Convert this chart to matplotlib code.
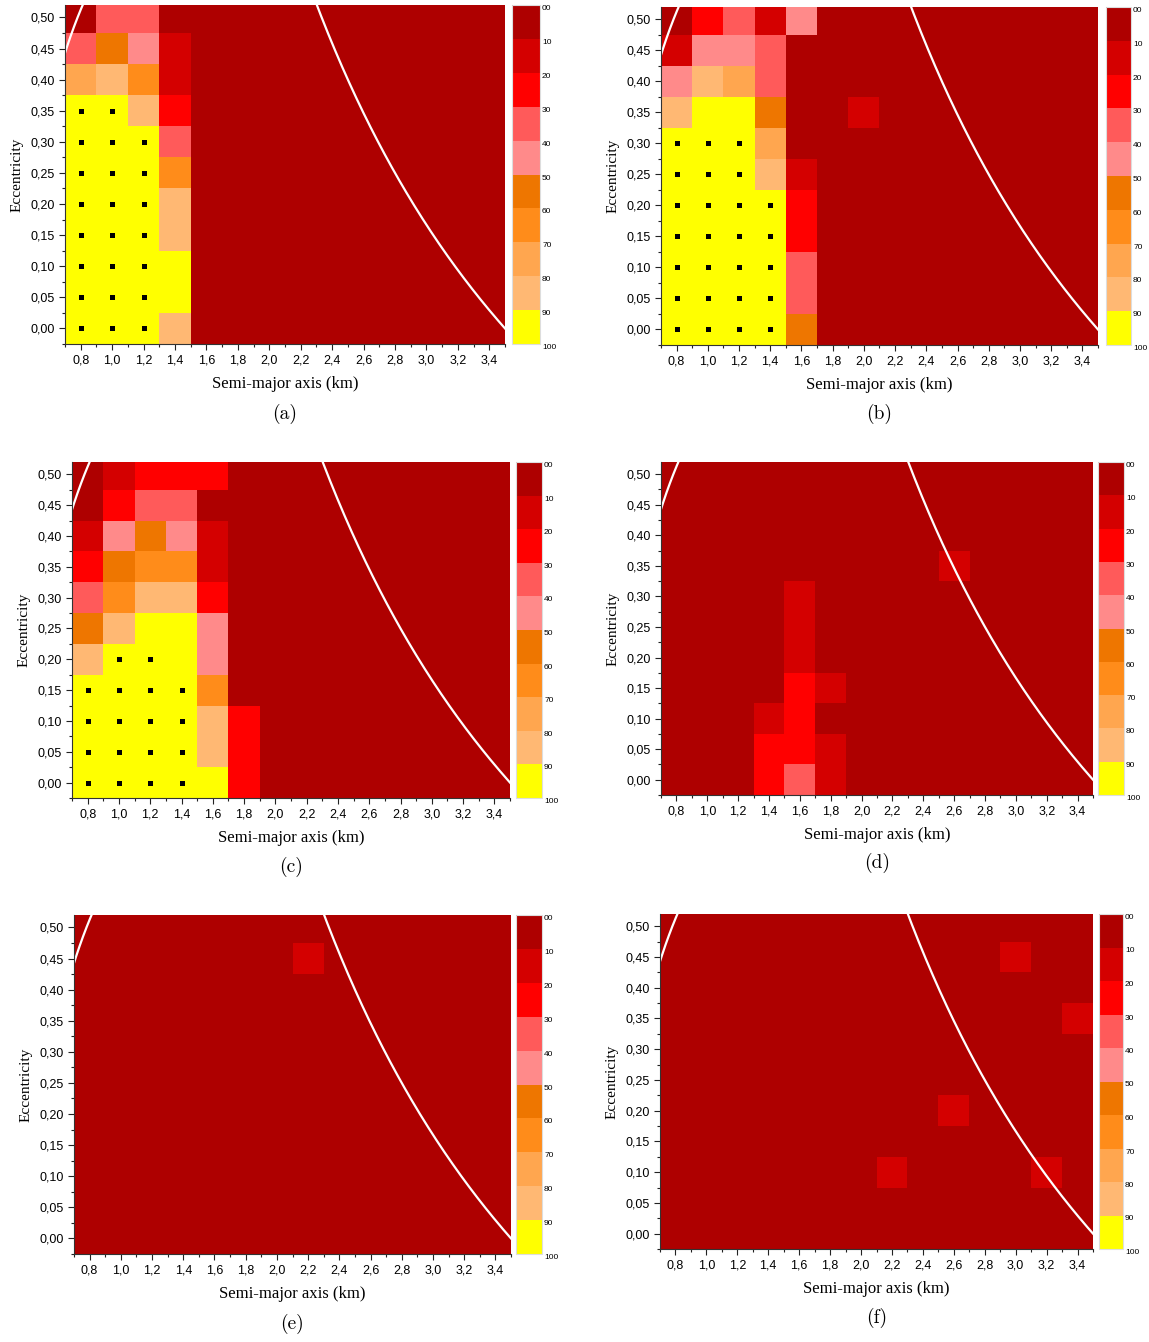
import numpy as np
import matplotlib
matplotlib.use("Agg")
import matplotlib.pyplot as plt
from matplotlib.colors import ListedColormap, BoundaryNorm
from matplotlib.ticker import FixedLocator, FuncFormatter

# semi-major axis (km) and eccentricity of the grid cells
semi_axis = [0.8, 1.0, 1.2, 1.4, 1.6, 1.8, 2.0, 2.2, 2.4, 2.6, 2.8, 3.0, 3.2, 3.4]
eccentricity = [0.00, 0.05, 0.10, 0.15, 0.20, 0.25, 0.30, 0.35, 0.40, 0.45, 0.50]

# survival (%) per cell, rows from e=0.50 (top) down to e=0.00
# 100 = all survive (dotted), 90 = 90-99, 80 = 80-89 ... 0 = 0-9
surv_a = [
    [0, 30, 30, 0, 0, 0, 0, 0, 0, 0, 0, 0, 0, 0],
    [30, 50, 40, 10, 0, 0, 0, 0, 0, 0, 0, 0, 0, 0],
    [70, 80, 60, 10, 0, 0, 0, 0, 0, 0, 0, 0, 0, 0],
    [100, 100, 80, 20, 0, 0, 0, 0, 0, 0, 0, 0, 0, 0],
    [100, 100, 100, 30, 0, 0, 0, 0, 0, 0, 0, 0, 0, 0],
    [100, 100, 100, 60, 0, 0, 0, 0, 0, 0, 0, 0, 0, 0],
    [100, 100, 100, 80, 0, 0, 0, 0, 0, 0, 0, 0, 0, 0],
    [100, 100, 100, 80, 0, 0, 0, 0, 0, 0, 0, 0, 0, 0],
    [100, 100, 100, 90, 0, 0, 0, 0, 0, 0, 0, 0, 0, 0],
    [100, 100, 100, 90, 0, 0, 0, 0, 0, 0, 0, 0, 0, 0],
    [100, 100, 100, 80, 0, 0, 0, 0, 0, 0, 0, 0, 0, 0],
]
surv_b = [
    [0, 20, 30, 10, 40, 0, 0, 0, 0, 0, 0, 0, 0, 0],
    [10, 40, 40, 30, 0, 0, 0, 0, 0, 0, 0, 0, 0, 0],
    [40, 80, 70, 30, 0, 0, 0, 0, 0, 0, 0, 0, 0, 0],
    [80, 90, 90, 50, 0, 0, 10, 0, 0, 0, 0, 0, 0, 0],
    [100, 100, 100, 70, 0, 0, 0, 0, 0, 0, 0, 0, 0, 0],
    [100, 100, 100, 80, 10, 0, 0, 0, 0, 0, 0, 0, 0, 0],
    [100, 100, 100, 100, 20, 0, 0, 0, 0, 0, 0, 0, 0, 0],
    [100, 100, 100, 100, 20, 0, 0, 0, 0, 0, 0, 0, 0, 0],
    [100, 100, 100, 100, 30, 0, 0, 0, 0, 0, 0, 0, 0, 0],
    [100, 100, 100, 100, 30, 0, 0, 0, 0, 0, 0, 0, 0, 0],
    [100, 100, 100, 100, 50, 0, 0, 0, 0, 0, 0, 0, 0, 0],
]
surv_c = [
    [0, 10, 20, 20, 20, 0, 0, 0, 0, 0, 0, 0, 0, 0],
    [0, 20, 30, 30, 0, 0, 0, 0, 0, 0, 0, 0, 0, 0],
    [10, 40, 50, 40, 10, 0, 0, 0, 0, 0, 0, 0, 0, 0],
    [20, 50, 60, 60, 10, 0, 0, 0, 0, 0, 0, 0, 0, 0],
    [30, 60, 80, 80, 20, 0, 0, 0, 0, 0, 0, 0, 0, 0],
    [50, 80, 90, 90, 40, 0, 0, 0, 0, 0, 0, 0, 0, 0],
    [80, 100, 100, 90, 40, 0, 0, 0, 0, 0, 0, 0, 0, 0],
    [100, 100, 100, 100, 60, 0, 0, 0, 0, 0, 0, 0, 0, 0],
    [100, 100, 100, 100, 80, 20, 0, 0, 0, 0, 0, 0, 0, 0],
    [100, 100, 100, 100, 80, 20, 0, 0, 0, 0, 0, 0, 0, 0],
    [100, 100, 100, 100, 90, 20, 0, 0, 0, 0, 0, 0, 0, 0],
]
surv_d = [
    [0, 0, 0, 0, 0, 0, 0, 0, 0, 0, 0, 0, 0, 0],
    [0, 0, 0, 0, 0, 0, 0, 0, 0, 0, 0, 0, 0, 0],
    [0, 0, 0, 0, 0, 0, 0, 0, 0, 0, 0, 0, 0, 0],
    [0, 0, 0, 0, 0, 0, 0, 0, 0, 10, 0, 0, 0, 0],
    [0, 0, 0, 0, 10, 0, 0, 0, 0, 0, 0, 0, 0, 0],
    [0, 0, 0, 0, 10, 0, 0, 0, 0, 0, 0, 0, 0, 0],
    [0, 0, 0, 0, 10, 0, 0, 0, 0, 0, 0, 0, 0, 0],
    [0, 0, 0, 0, 20, 10, 0, 0, 0, 0, 0, 0, 0, 0],
    [0, 0, 0, 10, 20, 0, 0, 0, 0, 0, 0, 0, 0, 0],
    [0, 0, 0, 20, 20, 10, 0, 0, 0, 0, 0, 0, 0, 0],
    [0, 0, 0, 20, 30, 10, 0, 0, 0, 0, 0, 0, 0, 0],
]
surv_e = [
    [0, 0, 0, 0, 0, 0, 0, 0, 0, 0, 0, 0, 0, 0],
    [0, 0, 0, 0, 0, 0, 0, 10, 0, 0, 0, 0, 0, 0],
    [0, 0, 0, 0, 0, 0, 0, 0, 0, 0, 0, 0, 0, 0],
    [0, 0, 0, 0, 0, 0, 0, 0, 0, 0, 0, 0, 0, 0],
    [0, 0, 0, 0, 0, 0, 0, 0, 0, 0, 0, 0, 0, 0],
    [0, 0, 0, 0, 0, 0, 0, 0, 0, 0, 0, 0, 0, 0],
    [0, 0, 0, 0, 0, 0, 0, 0, 0, 0, 0, 0, 0, 0],
    [0, 0, 0, 0, 0, 0, 0, 0, 0, 0, 0, 0, 0, 0],
    [0, 0, 0, 0, 0, 0, 0, 0, 0, 0, 0, 0, 0, 0],
    [0, 0, 0, 0, 0, 0, 0, 0, 0, 0, 0, 0, 0, 0],
    [0, 0, 0, 0, 0, 0, 0, 0, 0, 0, 0, 0, 0, 0],
]
surv_f = [
    [0, 0, 0, 0, 0, 0, 0, 0, 0, 0, 0, 0, 0, 0],
    [0, 0, 0, 0, 0, 0, 0, 0, 0, 0, 0, 10, 0, 0],
    [0, 0, 0, 0, 0, 0, 0, 0, 0, 0, 0, 0, 0, 0],
    [0, 0, 0, 0, 0, 0, 0, 0, 0, 0, 0, 0, 0, 10],
    [0, 0, 0, 0, 0, 0, 0, 0, 0, 0, 0, 0, 0, 0],
    [0, 0, 0, 0, 0, 0, 0, 0, 0, 0, 0, 0, 0, 0],
    [0, 0, 0, 0, 0, 0, 0, 0, 0, 10, 0, 0, 0, 0],
    [0, 0, 0, 0, 0, 0, 0, 0, 0, 0, 0, 0, 0, 0],
    [0, 0, 0, 0, 0, 0, 0, 10, 0, 0, 0, 0, 10, 0],
    [0, 0, 0, 0, 0, 0, 0, 0, 0, 0, 0, 0, 0, 0],
    [0, 0, 0, 0, 0, 0, 0, 0, 0, 0, 0, 0, 0, 0],
]
panel_letters = ["(a)", "(b)", "(c)", "(d)", "(e)", "(f)"]

# limit curves: pericentre a(1-e) and apocentre a(1+e) in km
peri_limit = 0.39
apo_limit = 3.5

level_colors = ["#AE0000", "#D40000", "#FF0000", "#FF5A5A", "#FF8A8A",
                "#EE7600", "#FF8C1A", "#FFA64F", "#FFB873", "#FFFF00"]
levels = [0, 10, 20, 30, 40, 50, 60, 70, 80, 90, 100]
cmap = ListedColormap(level_colors)
norm = BoundaryNorm(levels, cmap.N, clip=True)

W, H = 1149, 1342

def box(l, t, r, b):
    return [l / W, 1 - b / H, (r - l) / W, (b - t) / H]

# pixel boxes: heatmap axes, colorbar axes
layout = [
    ((65, 5, 505, 344), (512, 5, 540, 344)),
    ((661, 7, 1098, 345), (1106, 7, 1131, 345)),
    ((72, 462, 510, 798), (516, 462, 542, 798)),
    ((661, 462, 1093, 795), (1098, 462, 1124, 795)),
    ((74, 915, 511, 1254), (516, 915, 542, 1254)),
    ((660, 914, 1093, 1249), (1099, 914, 1123, 1249)),
]

x_fmt = FuncFormatter(lambda v, p: f"{v:.1f}".replace(".", ","))
y_fmt = FuncFormatter(lambda v, p: f"{v:.2f}".replace(".", ","))


def draw_panel(fig, surv, ax_box, cb_box, letter):
    ax = fig.add_axes(box(*ax_box))
    z = np.array(surv[::-1], dtype=float)
    a = np.array(semi_axis)
    e = np.array(eccentricity)
    x_edges = np.append(a - 0.1, a[-1] + 0.1)
    y_edges = np.append(e - 0.025, e[-1] + 0.025)
    mesh = ax.pcolormesh(x_edges, y_edges, z, cmap=cmap, norm=norm)

    # full survival marked by a dot
    yy, xx = np.nonzero(z >= 100)
    ax.plot(a[xx], e[yy], "s", color="black", ms=3.6, mew=0)

    aa = np.linspace(0.6, 3.6, 400)
    ax.plot(aa, 1 - peri_limit / aa, color="white", lw=1.6)
    ax.plot(aa, apo_limit / aa - 1, color="white", lw=1.6)

    ax.set_xlim(0.7, 3.5)
    ax.set_ylim(-0.025, 0.52)
    ax.xaxis.set_major_locator(FixedLocator(semi_axis))
    ax.xaxis.set_minor_locator(FixedLocator(list(x_edges)))
    ax.yaxis.set_major_locator(FixedLocator(eccentricity))
    ax.yaxis.set_minor_locator(FixedLocator(list(y_edges[:-1])))
    ax.xaxis.set_major_formatter(x_fmt)
    ax.yaxis.set_major_formatter(y_fmt)
    ax.tick_params(which="major", direction="out", length=4, width=0.8,
                   labelsize=9, colors="#222222", labelcolor="black")
    ax.tick_params(which="minor", direction="out", length=2.5, width=0.8,
                   colors="#222222")
    for lab in ax.get_xticklabels() + ax.get_yticklabels():
        lab.set_fontfamily("Liberation Sans")
    for s in ["top", "right"]:
        ax.spines[s].set_visible(False)
    for s in ["left", "bottom"]:
        ax.spines[s].set_color("#333333")
        ax.spines[s].set_linewidth(0.8)

    ax.set_xlabel("Semi-major axis (km)", fontfamily="Liberation Serif",
                  fontsize=12, labelpad=7)
    ax.set_ylabel("Eccentricity", fontfamily="Liberation Serif",
                  fontsize=11, labelpad=5)
    ax.text(0.5, -0.205, letter, transform=ax.transAxes, ha="center",
            va="center", fontfamily="cmr10", fontsize=14)

    cax = fig.add_axes(box(*cb_box))
    cb = fig.colorbar(mesh, cax=cax, boundaries=levels, ticks=levels)
    cax.invert_yaxis()
    cb.set_ticklabels(["00"] + [str(v) for v in levels[1:]])
    cax.tick_params(length=0, labelsize=6, pad=1.5)
    cb.outline.set_edgecolor("#DDDDDD")
    cb.outline.set_linewidth(0.8)
    for lab in cax.get_yticklabels():
        lab.set_fontfamily("Liberation Sans")
        lab.set_verticalalignment("top")


def main():
    fig = plt.figure(figsize=(W / 100, H / 100), dpi=100)
    panels = [surv_a, surv_b, surv_c, surv_d, surv_e, surv_f]
    for surv, (ab, cbb), letter in zip(panels, layout, panel_letters):
        draw_panel(fig, surv, ab, cbb, letter)
    fig.savefig("out.png", dpi=100)


if __name__ == "__main__":
    main()
